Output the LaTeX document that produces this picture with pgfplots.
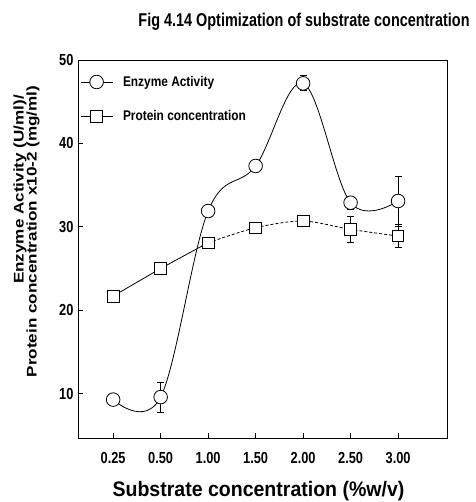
\documentclass[border=0pt]{standalone}
\usepackage{fontspec}
\setmainfont{Liberation Sans}
\newfontfamily\cond[FakeStretch=0.8]{Liberation Sans}
\newfontfamily\titlefont[FakeStretch=0.78]{Liberation Sans}
\newfontfamily\legendfont[FakeStretch=0.85]{Liberation Sans}
\newfontfamily\xlabfont[FakeStretch=0.93]{Liberation Sans}
\newfontfamily\ylabfont[FakeStretch=1.22]{Liberation Sans}
\usepackage{pgfplots}
\pgfplotsset{compat=1.18}

% Enzyme activity (U/ml) with standard deviation
\pgfplotstableread{
x y e
0 9.3 0.3
1 9.6 1.8
2 31.9 0.3
3 37.3 0.7
4 47.2 0.9
5 32.9 0.8
6 33.1 3.0
}\enzyme
% Protein concentration x10^-2 (mg/ml)
\pgfplotstableread{
x y e
0 21.7 0.2
1 25.0 0.2
2 28.1 0.2
}\proteinA
\pgfplotstableread{
x y e
2 28.1 0.2
3 29.9 0.4
4 30.7 0.3
5 29.7 1.5
6 28.9 1.4
}\proteinB

\begin{document}
\begin{tikzpicture}[x=1pt,y=1pt]
\begin{axis}[
  at={(0pt,0pt)}, anchor=south west,
  scale only axis, width=369pt, height=378pt,
  xmin=-0.74, xmax=7.03, ymin=4.7, ymax=50,
  xtick={0,...,6},
  xticklabels={0.25,0.50,1.00,1.50,2.00,2.50,3.00},
  ytick={10,20,30,40,50},
  tick align=inside, xtick pos=bottom, ytick pos=left,
  major tick length=5pt,
  axis line style={line width=0.8pt},
  every tick/.style={line width=0.8pt, black},
  /pgf/number format/assume math mode=true,
  tick label style={font=\cond\bfseries\fontsize{16}{17}\selectfont},
  xticklabel style={yshift=-11pt},
  yticklabel style={xshift=-1pt},
  legend style={at={(0,1)}, anchor=north west, draw=none, fill=none,
    font=\legendfont\bfseries\fontsize{14}{15}\selectfont,
    row sep=21pt, xshift=2pt, yshift=-15pt, inner sep=0pt,
    nodes={inner sep=1pt},
    /tikz/every odd column/.append style={column sep=9pt}},
  legend cell align=left,
  legend image code/.code={%
    \draw[mark repeat=2,mark phase=2,#1] plot coordinates {(0pt,0pt)(16pt,0pt)(32pt,0pt)};},
  error bars/error bar style={line width=0.8pt, black, solid},
]
\addplot[black, line width=0.8pt, smooth, tension=0.6, mark=*, mark size=6.8pt,
  mark options={fill=white, solid},
  error bars/.cd, y dir=both, y explicit,
  error mark options={rotate=90, mark size=3.5pt, line width=0.8pt}]
  table[x=x, y=y, y error=e]{\enzyme};
\addlegendentry{Enzyme Activity}
\addplot[black, line width=0.8pt, smooth, mark=square*, mark size=5.8pt,
  mark options={fill=white, solid},
  error bars/.cd, y dir=both, y explicit,
  error mark options={rotate=90, mark size=3.5pt, line width=0.8pt}]
  table[x=x, y=y, y error=e]{\proteinA};
\addlegendentry{Protein concentration}
\addplot[black, line width=0.8pt, smooth, densely dashed, mark=square*, mark size=5.8pt,
  mark options={fill=white, solid}, forget plot,
  error bars/.cd, y dir=both, y explicit,
  error mark options={rotate=90, mark size=3.5pt, line width=0.8pt, solid}]
  table[x=x, y=y, y error=e]{\proteinB};
\end{axis}
\useasboundingbox (-78,-64) rectangle (397,438);
\node[font=\titlefont\bfseries\fontsize{18.5}{20}\selectfont] at (226,416)
  {Fig 4.14 Optimization of substrate concentration};
\node[font=\xlabfont\bfseries\fontsize{21}{23}\selectfont] at (180.5,-53)
  {Substrate concentration (\%w/v)};
\node[rotate=90, font=\ylabfont\bfseries\fontsize{14}{16}\selectfont] at (-58,248.5)
  {Enzyme Activity (U/ml)/};
\node[rotate=90, font=\ylabfont\bfseries\fontsize{14}{16}\selectfont] at (-45,206.5)
  {Protein concentration x10-2 (mg/ml)};
\end{tikzpicture}
\end{document}
